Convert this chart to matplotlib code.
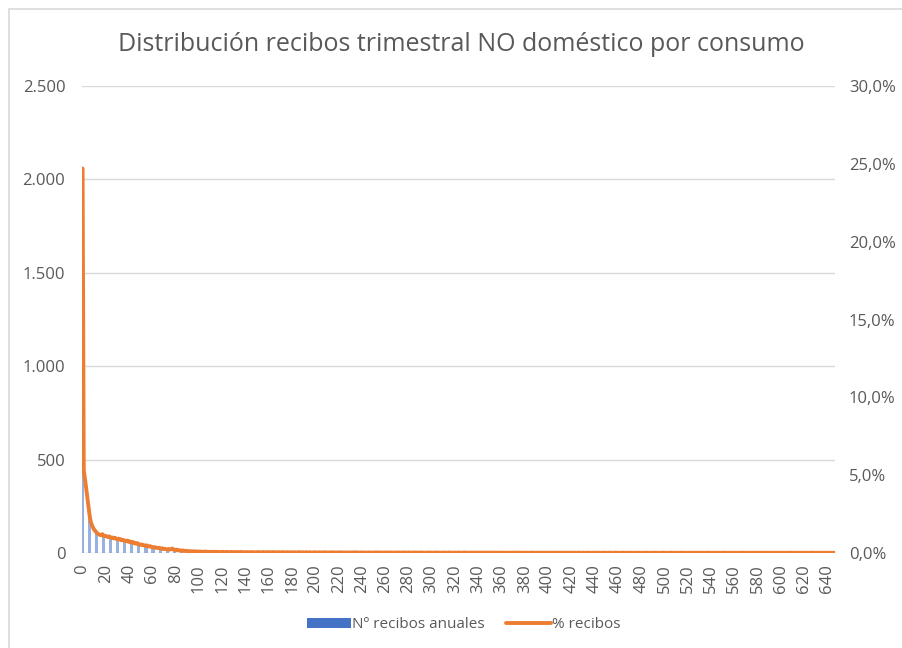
import numpy as np
import matplotlib
matplotlib.use("Agg")
import matplotlib.pyplot as plt
from matplotlib.patches import Rectangle, Patch
from matplotlib.lines import Line2D
from matplotlib.ticker import FuncFormatter

plt.rcParams['font.family'] = ['Open Sans', 'DejaVu Sans']

# Nº recibos por tramo de consumo (0 .. 646 m3)
recibos_0_99 = [
    2060, 444, 398, 352, 301, 248, 203, 168, 149, 136,
    124, 118, 109, 104, 100, 97, 95, 101, 93, 90,
    92, 88, 85, 89, 84, 80, 83, 78, 81, 76,
    74, 77, 71, 73, 68, 70, 66, 64, 67, 61,
    63, 58, 60, 55, 57, 52, 50, 53, 47, 45,
    46, 42, 44, 40, 38, 41, 36, 35, 37, 33,
    31, 32, 29, 30, 27, 26, 28, 24, 23, 25,
    21, 22, 20, 19, 21, 18, 20, 24, 19, 17,
    16, 18, 14, 15, 13, 12, 14, 11, 12, 10,
    11, 10, 9, 10, 8, 9, 8, 9, 7, 8,
]
recibos_100_299 = [
    7, 8, 6, 7, 7, 6, 8, 6, 5, 7, 6, 6, 5, 7, 5, 6, 6, 5, 5, 6,
    5, 6, 4, 5, 6, 5, 5, 4, 6, 5, 4, 5, 5, 4, 5, 4, 6, 4, 4, 5,
    4, 4, 5, 3, 4, 5, 4, 4, 3, 4, 4, 5, 4, 3, 4, 5, 4, 4, 3, 5,
    4, 3, 4, 4, 5, 3, 4, 3, 4, 4, 3, 4, 5, 3, 3, 4, 4, 3, 4, 3,
    3, 4, 3, 4, 3, 3, 5, 3, 3, 4, 3, 3, 4, 3, 3, 4, 3, 2, 3, 4,
    3, 3, 2, 4, 3, 3, 3, 2, 4, 3, 3, 2, 3, 3, 4, 2, 3, 3, 2, 3,
    3, 4, 2, 3, 3, 2, 3, 2, 3, 3, 2, 3, 3, 2, 4, 3, 2, 3, 2, 3,
    3, 2, 3, 2, 2, 3, 3, 2, 3, 2, 2, 3, 2, 3, 3, 2, 2, 3, 2, 2,
    3, 2, 2, 3, 2, 3, 2, 2, 2, 3, 2, 2, 3, 2, 2, 2, 3, 2, 2, 2,
    3, 2, 2, 2, 2, 3, 2, 2, 2, 2, 2, 3, 2, 2, 1, 2, 2, 3, 2, 2,
]
recibos_300_499 = [
    2, 2, 1, 2, 3, 2, 2, 2, 1, 2, 2, 2, 2, 1, 2, 3, 2, 2, 1, 2,
    2, 1, 2, 2, 2, 1, 2, 2, 3, 2, 1, 2, 2, 1, 2, 2, 2, 1, 2, 2,
    2, 1, 2, 2, 1, 2, 2, 2, 1, 2, 2, 1, 2, 2, 1, 2, 1, 2, 2, 1,
    2, 2, 1, 2, 1, 2, 2, 1, 1, 2, 2, 1, 2, 1, 2, 2, 1, 2, 1, 1,
    2, 1, 2, 1, 1, 2, 2, 1, 2, 1, 1, 2, 1, 2, 1, 1, 2, 1, 2, 1,
    1, 2, 1, 1, 2, 1, 2, 1, 1, 2, 1, 1, 2, 1, 1, 2, 1, 1, 1, 2,
    1, 1, 2, 1, 1, 1, 2, 1, 1, 1, 2, 1, 1, 1, 2, 1, 1, 1, 1, 2,
    1, 1, 1, 2, 1, 1, 1, 1, 2, 1, 1, 1, 1, 2, 1, 1, 1, 1, 2, 1,
    1, 1, 1, 1, 2, 1, 1, 1, 1, 1, 2, 1, 1, 1, 1, 1, 1, 2, 1, 1,
    1, 1, 1, 1, 2, 1, 1, 1, 1, 1, 1, 2, 1, 1, 1, 1, 1, 1, 1, 2,
]
recibos_500_646 = [
    1, 1, 1, 1, 1, 1, 2, 1, 1, 1, 1, 1, 1, 1, 1, 2, 1, 1, 1, 1,
    1, 1, 1, 1, 1, 1, 1, 2, 1, 1, 1, 1, 1, 1, 1, 1, 1, 1, 2, 1,
    1, 1, 1, 1, 1, 1, 1, 1, 1, 1, 1, 1, 2, 1, 1, 1, 1, 1, 1, 1,
    1, 1, 1, 1, 1, 1, 1, 2, 1, 1, 1, 1, 1, 1, 1, 1, 1, 1, 1, 1,
    1, 1, 2, 1, 1, 1, 1, 1, 1, 1, 1, 1, 1, 1, 1, 1, 1, 1, 1, 1,
    1, 1, 1, 1, 1, 1, 1, 1, 2, 1, 1, 1, 1, 1, 1, 1, 1, 1, 1, 1,
    1, 1, 1, 1, 1, 1, 1, 2, 1, 1, 1, 1, 1, 1, 1, 1, 1, 1, 1, 1,
    1, 1, 1, 1, 1, 1, 1,
]
# total used for the % line (2.060 recibos <-> 24,7%)
total_recibos = 8340

recibos = recibos_0_99 + recibos_100_299 + recibos_300_499 + recibos_500_646
consumo = list(range(len(recibos)))
pct_recibos = [r / total_recibos for r in recibos]

gray_txt = '#595959'
grid_col = '#D9D9D9'

fig = plt.figure(figsize=(9.02, 6.48), dpi=100)
ax = fig.add_axes([82 / 902, 95 / 648, 753 / 902, 467 / 648])
ax2 = ax.twinx()

ax.bar(consumo, recibos, width=0.45, color='#4472C4', alpha=0.55, linewidth=0)
ax2.plot(consumo, pct_recibos, color='#ED7D31', linewidth=2.8, solid_capstyle='round')

ax.set_xlim(-0.5, len(recibos) - 0.5)
ax.set_ylim(0, 2500)
ax2.set_ylim(0, 0.30)
ax.set_yticks(np.arange(0, 2501, 500))
ax2.set_yticks(np.arange(0, 0.301, 0.05))
ax.set_xticks(np.arange(0, 641, 20))

ax.yaxis.set_major_formatter(FuncFormatter(lambda v, p: f'{int(v):,}'.replace(',', '.')))
ax2.yaxis.set_major_formatter(FuncFormatter(lambda v, p: f'{v * 100:.1f}%'.replace('.', ',')))

ax.grid(axis='y', color=grid_col, linewidth=1)
ax.set_axisbelow(True)
for a in (ax, ax2):
    for s in a.spines.values():
        s.set_visible(False)
    a.tick_params(length=0, labelsize=12, labelcolor=gray_txt)
ax.tick_params(axis='x', labelrotation=90, pad=8)
ax.tick_params(axis='y', pad=12)
ax2.tick_params(axis='y', pad=10)

fig.text(0.511, 0.931, 'Distribución recibos trimestral NO doméstico por consumo',
         ha='center', va='center', fontsize=18, color=gray_txt)

handles = [Patch(facecolor='#4472C4', edgecolor='none'),
           Line2D([0], [0], color='#ED7D31', linewidth=2.8, solid_capstyle='round')]
fig.legend(handles, ['Nº recibos anuales', '% recibos'], loc='center',
           bbox_to_anchor=(0.514, 0.036), ncol=2, frameon=False, fontsize=11,
           labelcolor=gray_txt, handlelength=2.9, handleheight=0.6,
           handletextpad=0.1, columnspacing=1.4)

fig.patches.append(Rectangle((8.5 / 902, -0.1), 1.2, 1.1 - 9.5 / 648,
                             transform=fig.transFigure, fill=False,
                             edgecolor=grid_col, linewidth=1.2))

fig.savefig('out.png', dpi=100)
